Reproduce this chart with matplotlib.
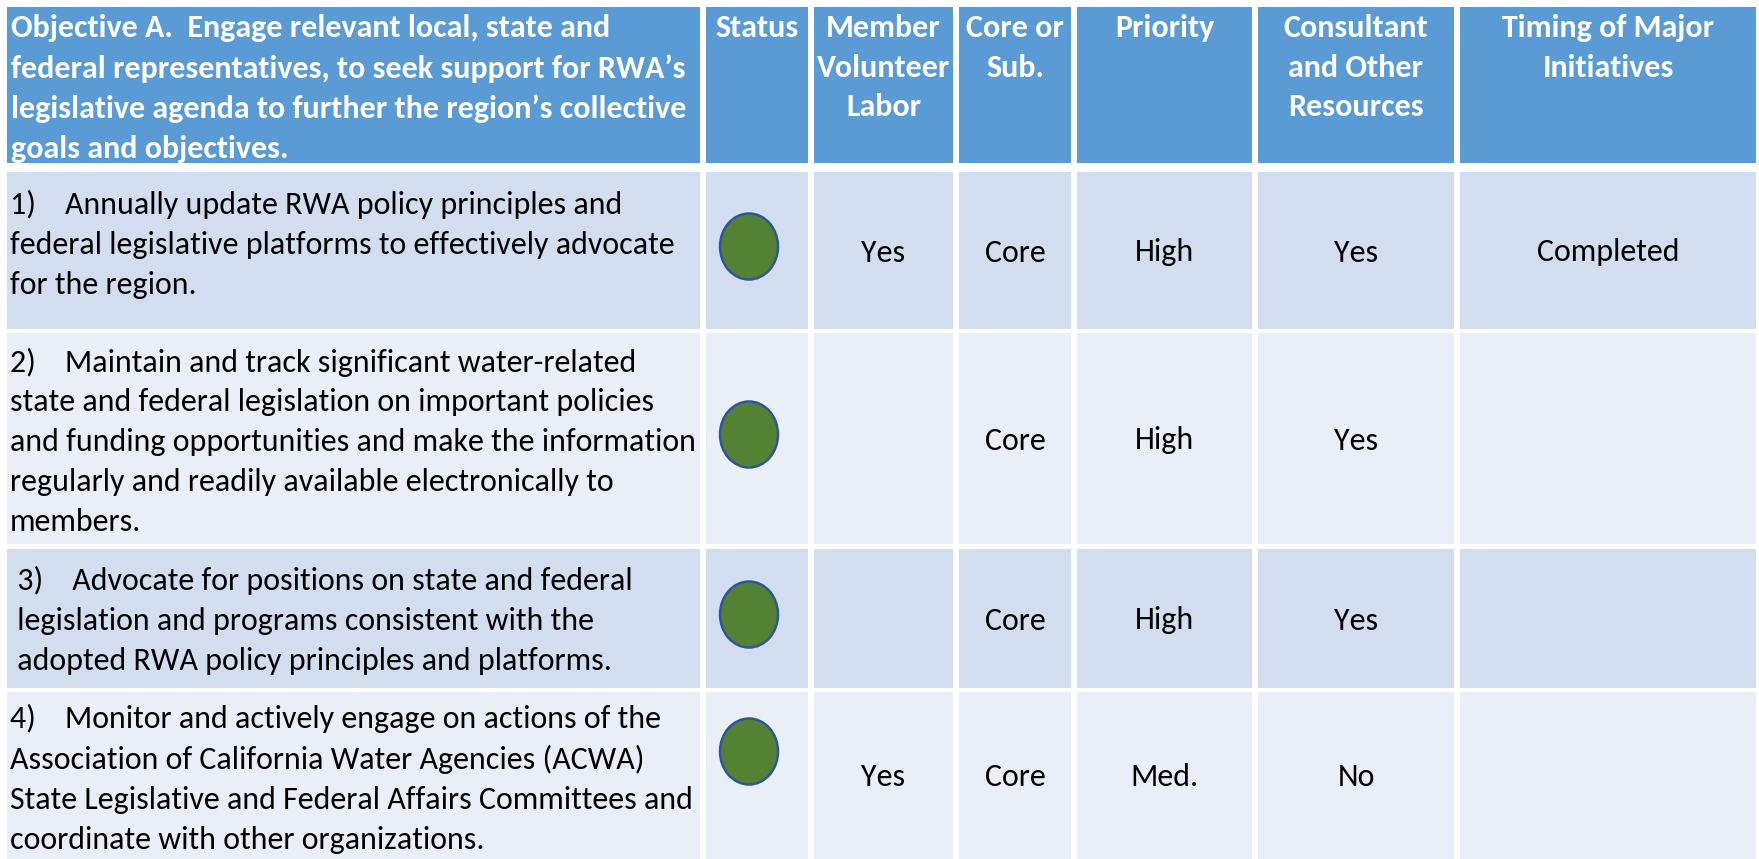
import matplotlib.pyplot as plt
from matplotlib.patches import Rectangle, Ellipse

# Table content
header_objective = ("Objective A.  Engage relevant local, state and\n"
                    "federal representatives, to seek support for RWA\u2019s\n"
                    "legislative agenda to further the region\u2019s collective\n"
                    "goals and objectives.")
headers = ["Status", "Member\nVolunteer\nLabor", "Core or\nSub.", "Priority",
           "Consultant\nand Other\nResources", "Timing of Major\nInitiatives"]

tasks = [
    "1)    Annually update RWA policy principles and\n"
    "federal legislative platforms to effectively advocate\n"
    "for the region.",
    "2)    Maintain and track significant water-related\n"
    "state and federal legislation on important policies\n"
    "and funding opportunities and make the information\n"
    "regularly and readily available electronically to\n"
    "members.",
    " 3)    Advocate for positions on state and federal\n"
    " legislation and programs consistent with the\n"
    " adopted RWA policy principles and platforms.",
    "4)    Monitor and actively engage on actions of the\n"
    "Association of California Water Agencies (ACWA)\n"
    "State Legislative and Federal Affairs Committees and\n"
    "coordinate with other organizations.",
]
status = ["green", "green", "green", "green"]
volunteer = ["Yes", "", "", "Yes"]
core_sub = ["Core", "Core", "Core", "Core"]
priority = ["High", "High", "High", "Med."]
consultant = ["Yes", "Yes", "Yes", "No"]
timing = ["Completed", "", "", ""]

# Layout (pixels)
W, H = 1759, 859
col_edges = [7, 703, 811, 956, 1074, 1255, 1457, 1759]
row_edges = [(7, 163), (172, 329), (333, 544), (549, 688), (692, 859)]
text_shift = [-6, 3, 2, 3]  # small vertical nudges of the task text per row
gap = 3

head_color = "#5B9BD5"
row_colors = ["#D2DEEF", "#EAEFF7"]
circle_fill = "#548235"
circle_edge = "#2F5597"

plt.rcParams['font.family'] = ['Carlito', 'DejaVu Sans']

fig = plt.figure(figsize=(W / 100, H / 100), dpi=100)
ax = fig.add_axes([0, 0, 1, 1])
ax.set_xlim(0, W)
ax.set_ylim(H, 0)
ax.axis("off")

fs = 23
ls = 1.51

# header row
y0, y1 = row_edges[0]
for c in range(7):
    x0, x1 = col_edges[c], col_edges[c + 1]
    ax.add_patch(Rectangle((x0 + (gap if c else 0), y0), x1 - x0 - (gap if c else 0) - gap, y1 - y0,
                           color=head_color, lw=0))
ax.text(col_edges[0] + 4, y0 + 7, header_objective, ha="left", va="top", color="white",
        fontsize=fs, fontweight="bold", linespacing=ls)
for c, h in enumerate(headers, start=1):
    xc = (col_edges[c] + col_edges[c + 1]) / 2
    ax.text(xc, y0 + 7, h, ha="center", va="top", color="white",
            fontsize=fs, fontweight="bold", linespacing=ls)

# body rows
for r in range(4):
    y0, y1 = row_edges[r + 1]
    yc = (y0 + y1) / 2
    color = row_colors[r % 2]
    for c in range(7):
        x0, x1 = col_edges[c], col_edges[c + 1]
        ax.add_patch(Rectangle((x0 + (gap if c else 0), y0), x1 - x0 - (gap if c else 0) - gap, y1 - y0,
                               color=color, lw=0))
    ax.text(col_edges[0] + 3, yc + text_shift[r], tasks[r], ha="left", va="center", color="black",
            fontsize=fs, linespacing=ls)
    cy = yc - 24 if r == 3 else yc - 4
    if status[r] == "green":
        ax.add_patch(Ellipse(((col_edges[1] + col_edges[2]) / 2 - 8, cy), 58, 66,
                             facecolor=circle_fill, edgecolor=circle_edge, lw=1.8))
    vals = [volunteer[r], core_sub[r], priority[r], consultant[r], timing[r]]
    for c, v in enumerate(vals, start=2):
        xc = (col_edges[c] + col_edges[c + 1]) / 2
        ax.text(xc, yc + 2, v, ha="center", va="center", color="black", fontsize=fs)

fig.savefig("out.png", dpi=100)
